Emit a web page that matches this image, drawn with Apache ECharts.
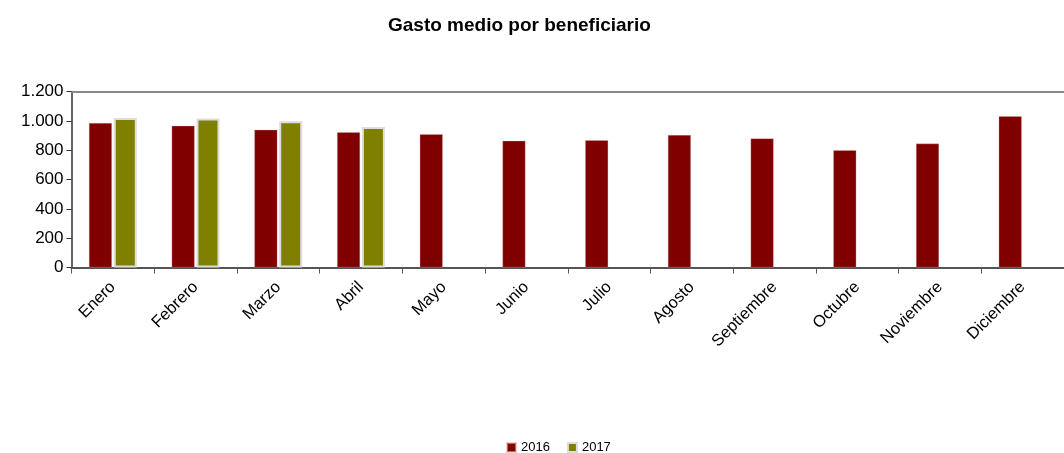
<!DOCTYPE html>
<html><head><meta charset="utf-8">
<script src="https://cdn.jsdelivr.net/npm/echarts@6/dist/echarts.min.js"></script>
<style>html,body{margin:0;padding:0;background:#fff}#c{width:1064px;height:453px}</style>
</head><body><div id="c"></div>
<script>
const categories = ['Enero','Febrero','Marzo','Abril','Mayo','Junio','Julio','Agosto','Septiembre','Octubre','Noviembre','Diciembre'];
const values2016 = [986, 966, 939, 923, 909, 864, 868, 904, 880, 800, 845, 1032];
const values2017 = [1020, 1016, 998, 958, null, null, null, null, null, null, null, null];
const yTicks = [0, 200, 400, 600, 800, 1000, 1200];

const FONT = "'Liberation Sans',Arial,sans-serif";
const chart = echarts.init(document.getElementById('c'));
chart.setOption({
  animation: false,
  title: {text: 'Gasto medio por beneficiario', left: 383, top: 11,
    textStyle: {fontFamily: FONT, fontWeight: 'bold', fontSize: 19, color: '#000'}},
  legend: {top: 436, left: 501, itemWidth: 9, itemHeight: 9, itemGap: 17,
    textStyle: {fontFamily: FONT, fontSize: 13, color: '#000'},
    data: [{name: '2016', icon: 'rect'}, {name: '2017', icon: 'rect'}]},
  grid: {left: 71.5, right: -10.7, top: 91.5, bottom: 185.5, containLabel: false},
  xAxis: [{
    type: 'category', data: categories, position: 'bottom',
    axisLine: {lineStyle: {color: '#555', width: 2}},
    axisTick: {show: true, alignWithLabel: false, length: 6, lineStyle: {color: '#555'}},
    axisLabel: {rotate: 45, margin: 17, fontFamily: FONT, fontSize: 16.5, color: '#000', interval: 0}
  }, {
    type: 'category', data: categories, position: 'top',
    axisLine: {lineStyle: {color: '#888', width: 2}},
    axisTick: {show: false}, axisLabel: {show: false}
  }],
  yAxis: {
    type: 'value', min: 0, max: 1200, interval: 200,
    axisLine: {show: true, lineStyle: {color: '#333', width: 1.5}},
    axisTick: {show: true, length: 5, inside: false, lineStyle: {color: '#333'}},
    splitLine: {show: false},
    axisLabel: {margin: 8, fontFamily: FONT, fontSize: 17, color: '#000',
      formatter: v => yTicks.includes(v) ? (v >= 1000 ? String(v).replace(/(\d)(\d{3})$/, '$1.$2') : String(v)) : ''}
  },
  series: [
    {name: '2016', type: 'bar', data: values2016, barWidth: 23, barGap: '8%',
      itemStyle: {color: '#800000', borderColor: 'rgba(220,180,180,0.6)', borderWidth: 0.5}},
    {name: '2017', type: 'bar', data: values2017, barWidth: 23,
      itemStyle: {color: '#808000', borderColor: '#ddd', borderWidth: 2}}
  ]
});
</script></body></html>
